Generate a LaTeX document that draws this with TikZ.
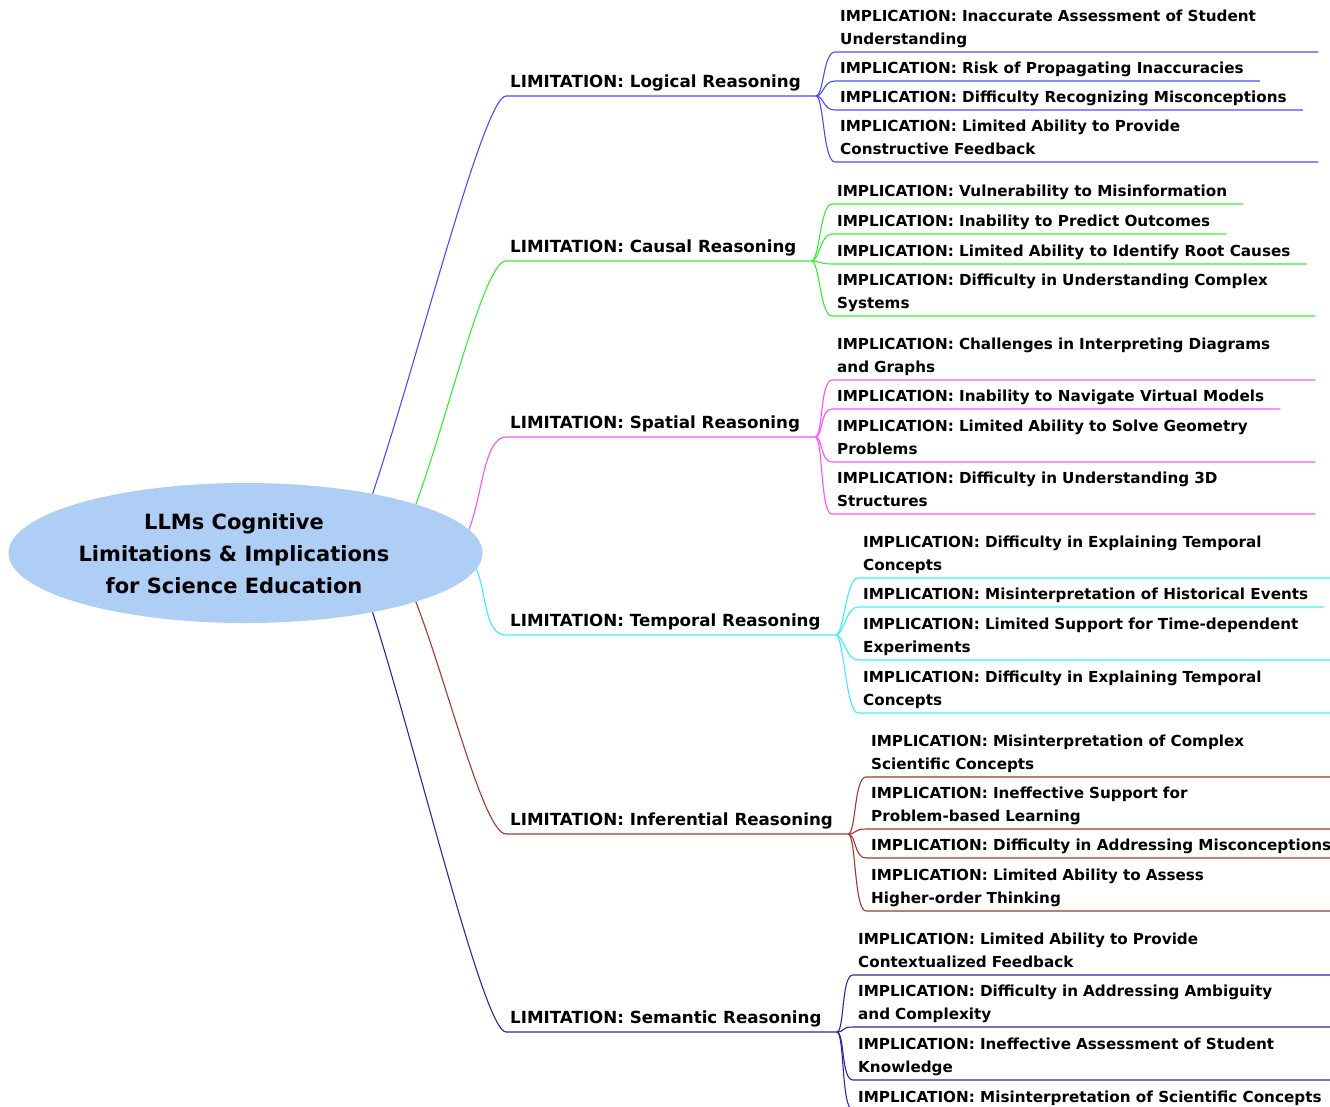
\documentclass[tikz,border=0pt]{standalone}
\usepackage{fontspec}
\setmainfont{DejaVu Sans}
\usetikzlibrary{shapes.geometric,calc}

\definecolor{rootfill}{RGB}{174,206,245}
\definecolor{cLogic}{RGB}{75,75,255}
\definecolor{cCause}{RGB}{55,238,55}
\definecolor{cSpace}{RGB}{255,80,255}
\definecolor{cTime}{RGB}{60,238,255}
\definecolor{cInfer}{RGB}{165,55,45}
\definecolor{cSema}{RGB}{40,40,160}

% limitation branch: ellipse border point -> underline of the limitation node
\newcommand\limbranch[3]{%
  \draw[#1,edge] (root.#2)
    .. controls ($(root.#2)!0.35!(#3.south west)$) and ($(#3.south west)+(-22,0)$)
    .. (#3.south west) -- (#3.south east);}
% implication branch: end of the limitation underline -> underline of the implication
\newcommand\impbranch[3]{%
  \draw[#1,edge] (#2.south east) .. controls +(8,0) and +(-12,0)
    .. (#3.south west) -- (#3.south east);}

\begin{document}
\begin{tikzpicture}[x=1pt,y=-1pt,
  edge/.style={line width=1.1pt},
  rootshape/.style={ellipse, fill=rootfill, minimum width=474pt, minimum height=140pt, inner sep=0pt},
  roottext/.style={font=\bfseries\fontsize{21}{32}\selectfont, align=center, inner sep=0pt},
  lim/.style={anchor=south west, font=\bfseries\fontsize{16.7}{20}\selectfont,
    inner xsep=4pt, inner ysep=4pt,
    execute at end node={\rule[-4pt]{0pt}{4pt}\hspace*{11pt}}},
  impl/.style={anchor=south west, font=\bfseries\fontsize{15.2}{23}\selectfont,
    inner xsep=5pt, inner ysep=3pt},
  wrap/.style={impl, text width=473pt, align=left,
    execute at end node={\rule[-4pt]{0pt}{4pt}}},
  single/.style={impl,
    execute at end node={\rule[-4pt]{0pt}{4pt}\hspace*{11pt}}}
]
\clip (0,0) rectangle (1330,1107);

% central topic
\node[rootshape] (root) at (245.5,553) {};
\node[roottext] (title) at (234,554) {LLMs Cognitive\\Limitations \& Implications\\for Science Education};

% limitations
\node[lim] (L1) at (506,96)   {LIMITATION: Logical Reasoning};
\node[lim] (L2) at (506,261)  {LIMITATION: Causal Reasoning};
\node[lim] (L3) at (506,437)  {LIMITATION: Spatial Reasoning};
\node[lim] (L4) at (506,635)  {LIMITATION: Temporal Reasoning};
\node[lim] (L5) at (506,834)  {LIMITATION: Inferential Reasoning};
\node[lim] (L6) at (506,1032) {LIMITATION: Semantic Reasoning};

% logical reasoning
\node[wrap]   (I11) at (835,52)  {IMPLICATION: Inaccurate Assessment of Student\\Understanding};
\node[single] (I12) at (835,81)  {IMPLICATION: Risk of Propagating Inaccuracies};
\node[single] (I13) at (835,110) {IMPLICATION: Difficulty Recognizing Misconceptions};
\node[wrap]   (I14) at (835,162) {IMPLICATION: Limited Ability to Provide\\Constructive Feedback};

% causal reasoning
\node[single] (I21) at (832,204) {IMPLICATION: Vulnerability to Misinformation};
\node[single] (I22) at (832,234) {IMPLICATION: Inability to Predict Outcomes};
\node[single] (I23) at (832,264) {IMPLICATION: Limited Ability to Identify Root Causes};
\node[wrap]   (I24) at (832,316) {IMPLICATION: Difficulty in Understanding Complex\\Systems};

% spatial reasoning
\node[wrap]   (I31) at (832,380) {IMPLICATION: Challenges in Interpreting Diagrams\\and Graphs};
\node[single] (I32) at (832,409) {IMPLICATION: Inability to Navigate Virtual Models};
\node[wrap]   (I33) at (832,462) {IMPLICATION: Limited Ability to Solve Geometry\\Problems};
\node[wrap]   (I34) at (832,514) {IMPLICATION: Difficulty in Understanding 3D\\Structures};

% temporal reasoning
\node[wrap]   (I41) at (858,578) {IMPLICATION: Difficulty in Explaining Temporal\\Concepts};
\node[single] (I42) at (858,607) {IMPLICATION: Misinterpretation of Historical Events};
\node[wrap]   (I43) at (858,660) {IMPLICATION: Limited Support for Time-dependent\\Experiments};
\node[wrap]   (I44) at (858,713) {IMPLICATION: Difficulty in Explaining Temporal\\Concepts};

% inferential reasoning
\node[wrap]   (I51) at (866,777) {IMPLICATION: Misinterpretation of Complex\\Scientific Concepts};
\node[wrap]   (I52) at (866,829) {IMPLICATION: Ineffective Support for\\Problem-based Learning};
\node[single] (I53) at (866,858) {IMPLICATION: Difficulty in Addressing Misconceptions};
\node[wrap]   (I54) at (866,911) {IMPLICATION: Limited Ability to Assess\\Higher-order Thinking};

% semantic reasoning
\node[wrap]   (I61) at (853,975)  {IMPLICATION: Limited Ability to Provide\\Contextualized Feedback};
\node[wrap]   (I62) at (853,1027) {IMPLICATION: Difficulty in Addressing Ambiguity\\and Complexity};
\node[wrap]   (I63) at (853,1080) {IMPLICATION: Ineffective Assessment of Student\\Knowledge};
\node[single] (I64) at (853,1110) {IMPLICATION: Misinterpretation of Scientific Concepts};

% connectors from the central topic
\limbranch{cLogic}{25}{L1}
\limbranch{cCause}{16.7}{L2}
\limbranch{cSpace}{6.7}{L3}
\limbranch{cTime}{-4.7}{L4}
\limbranch{cInfer}{-16.1}{L5}
\limbranch{cSema}{-25.6}{L6}

% connectors to the implications
\foreach \i in {1,...,4} {\impbranch{cLogic}{L1}{I1\i}}
\foreach \i in {1,...,4} {\impbranch{cCause}{L2}{I2\i}}
\foreach \i in {1,...,4} {\impbranch{cSpace}{L3}{I3\i}}
\foreach \i in {1,...,4} {\impbranch{cTime}{L4}{I4\i}}
\foreach \i in {1,...,4} {\impbranch{cInfer}{L5}{I5\i}}
\foreach \i in {1,...,4} {\impbranch{cSema}{L6}{I6\i}}
\end{tikzpicture}
\end{document}
